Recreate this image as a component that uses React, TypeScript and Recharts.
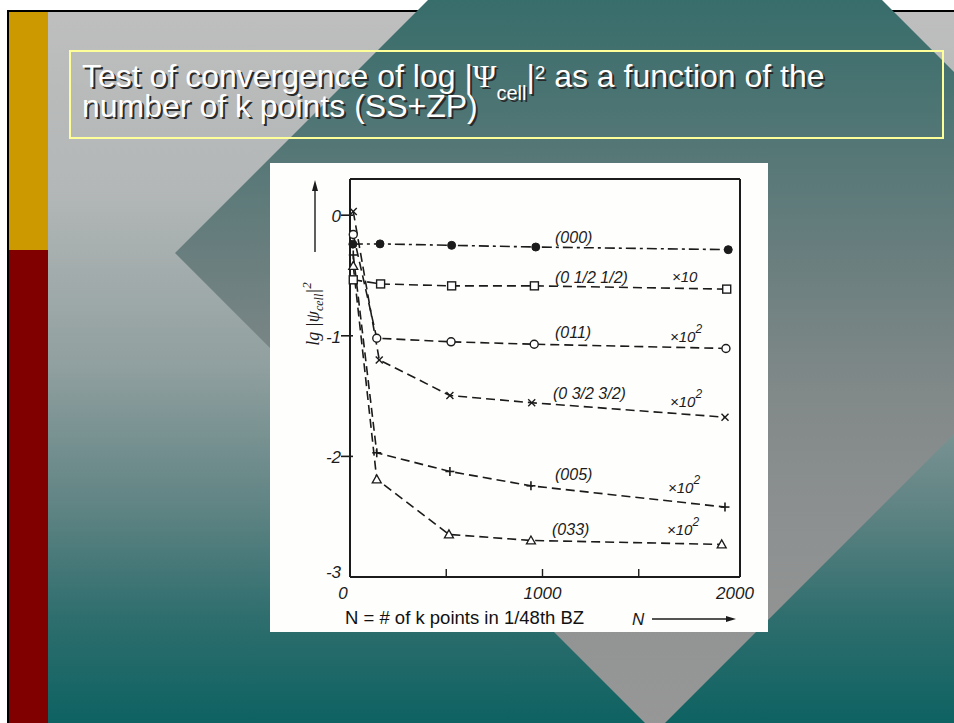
import React from "react";
import { LineChart, Line, XAxis, YAxis } from "recharts";

// ---------- data ----------
const seriesNames = ["(000)", "(0 1/2 1/2)", "(011)", "(0 3/2 3/2)", "(005)", "(033)"];
const scaleNotes = ["", "×10", "×10²", "×10²", "×10²", "×10²"];

const kPoints000 = [15, 156, 528, 965, 1965];
const lg000 = [-0.24, -0.238, -0.25, -0.264, -0.286];

const kPointsHalf = [17, 159, 528, 958, 1957];
const lgHalf = [-0.536, -0.57, -0.586, -0.586, -0.613];

const kPoints011 = [17, 139, 525, 957, 1953];
const lg011 = [-0.16, -1.02, -1.05, -1.07, -1.105];

const kPoints0_3232 = [17, 152, 519, 944, 1948];
const lg0_3232 = [0.03, -1.2, -1.495, -1.555, -1.675];

const kPoints005 = [17, 139, 519, 940, 1948];
const lg005 = [-0.33, -1.97, -2.125, -2.244, -2.42];

const kPoints033 = [17, 139, 514, 940, 1931];
const lg033 = [-0.42, -2.19, -2.647, -2.697, -2.73];

const xTicks = [0, 500, 1000, 1500, 2000];
const xTickLabels: Record<number, string> = { 0: "0", 1000: "1000", 2000: "2000" };
const yTicks = [0, -1, -2, -3];

const zip = (xs: number[], ys: number[]) => xs.map((x, i) => ({ x, y: ys[i] }));

const markerKinds = ["disc", "square", "circle", "cross", "plus", "triangle"];
const seriesData = [
  zip(kPoints000, lg000),
  zip(kPointsHalf, lgHalf),
  zip(kPoints011, lg011),
  zip(kPoints0_3232, lg0_3232),
  zip(kPoints005, lg005),
  zip(kPoints033, lg033),
];

// ---------- styling ----------
const INK = "#1b1b1b";
const scanFont = "'Liberation Sans', Arial, sans-serif";

const makeDot = (kind: string) => (props: any) => {
  const { cx, cy, index } = props;
  const k = `${kind}-${index}`;
  if (cx == null || cy == null) return <g key={k} />;
  switch (kind) {
    case "disc":
      return <circle key={k} cx={cx} cy={cy} r={4} fill={INK} stroke={INK} />;
    case "square":
      return <rect key={k} x={cx - 4} y={cy - 4} width={8} height={8} fill="#fff" stroke={INK} strokeWidth={1.4} />;
    case "circle":
      return <circle key={k} cx={cx} cy={cy} r={4} fill="#fff" stroke={INK} strokeWidth={1.4} />;
    case "cross":
      return (
        <g key={k} stroke={INK} strokeWidth={1.4}>
          <line x1={cx - 3.5} y1={cy - 3.5} x2={cx + 3.5} y2={cy + 3.5} />
          <line x1={cx - 3.5} y1={cy + 3.5} x2={cx + 3.5} y2={cy - 3.5} />
        </g>
      );
    case "plus":
      return (
        <g key={k} stroke={INK} strokeWidth={1.6}>
          <line x1={cx - 4.5} y1={cy} x2={cx + 4.5} y2={cy} />
          <line x1={cx} y1={cy - 4.5} x2={cx} y2={cy + 4.5} />
        </g>
      );
    default:
      return (
        <polygon key={k} points={`${cx},${cy - 4.5} ${cx - 4.5},${cy + 3.5} ${cx + 4.5},${cy + 3.5}`} fill="#fff" stroke={INK} strokeWidth={1.3} />
      );
  }
};

const LeftTick = (props: any) => {
  const { x, y, payload } = props;
  const v = payload.value;
  return (
    <g>
      {v > -3 && <line x1={x - 9} y1={y} x2={x + 3} y2={y} stroke={INK} strokeWidth={1.6} />}
      <text x={x - 9} y={v === -3 ? y + 1 : y + 7} textAnchor="end" fontFamily={scanFont} fontStyle="italic" fontSize={17} fill={INK}>
        {String(v)}
      </text>
    </g>
  );
};

const RightTick = (props: any) => {
  const { x, y, payload } = props;
  if (payload.value <= -3 || payload.value >= 0.3) return <g />;
  return <line x1={x - 8} y1={y + 4} x2={x + 1} y2={y + 4} stroke={INK} strokeWidth={1.6} />;
};

const BottomTick = (props: any) => {
  const { x, y, payload } = props;
  const v = payload.value;
  const lab = xTickLabels[v];
  return (
    <g>
      {v > 0 && v < 2000 && <line x1={x} y1={y} x2={x} y2={y - 8} stroke={INK} strokeWidth={1.4} />}
      {lab && (
        <text x={v === 0 ? x - 7 : x} y={y + 22} textAnchor="middle" fontFamily={scanFont} fontStyle="italic" fontSize={17} fill={INK}>
          {lab}
        </text>
      )}
    </g>
  );
};

const TopTick = (props: any) => {
  const { x, y, payload } = props;
  const v = payload.value;
  if (v <= 0 || v >= 2000) return <g />;
  return <line x1={x} y1={y} x2={x} y2={y + 9} stroke={INK} strokeWidth={1.4} />;
};

// annotation placement (pixels on the page)
const labelPos = [
  [555, 243],
  [555, 283],
  [555, 338],
  [553, 399],
  [555, 480],
  [552, 535],
];
const notePos = [
  [0, 0],
  [672, 282],
  [670, 342],
  [670, 407],
  [668, 493],
  [667, 535],
];

function Title() {
  const body = (fill: string, dx: number, dy: number) => (
    <text x={82 + dx} y={87 + dy} fontFamily="'Liberation Sans', Arial, sans-serif" fontSize={32} fill={fill}>
      Test of convergence of log |<tspan fontFamily="'Liberation Serif', 'Times New Roman', serif">Ψ</tspan>
      <tspan fontSize={20} dy={13}>cell</tspan>
      <tspan dy={-13}>|</tspan>
      <tspan fontSize={19} dy={-8}>2</tspan>
      <tspan dy={8}> as a function of the</tspan>
    </text>
  );
  const body2 = (fill: string, dx: number, dy: number) => (
    <text x={82 + dx} y={117 + dy} fontFamily="'Liberation Sans', Arial, sans-serif" fontSize={32} fill={fill}>
      number of k points (SS+ZP)
    </text>
  );
  return (
    <g>
      {body("#2a2a2a", 2, 2)}
      {body2("#2a2a2a", 2, 2)}
      {body("#ffffff", 0, 0)}
      {body2("#ffffff", 0, 0)}
    </g>
  );
}

export default function App() {
  return (
    <div style={{ position: "absolute", left: 0, top: 0, width: 954, height: 723, overflow: "hidden", background: "#fff" }}>
      <svg width={954} height={723} style={{ position: "absolute", left: 0, top: 0 }}>
        <defs>
          <linearGradient id="bg" x1="0" y1="12" x2="0" y2="723" gradientUnits="userSpaceOnUse">
            <stop offset="0" stopColor="#bebebe" />
            <stop offset="0.25" stopColor="#b3b7b7" />
            <stop offset="0.5" stopColor="#909f9f" />
            <stop offset="0.7" stopColor="#5f8383" />
            <stop offset="0.85" stopColor="#2f6e6e" />
            <stop offset="1" stopColor="#0e6262" />
          </linearGradient>
          <linearGradient id="dia" x1="0" y1="-227" x2="0" y2="733" gradientUnits="userSpaceOnUse">
            <stop offset="0" stopColor="#0f5f5d" />
            <stop offset="0.25" stopColor="#3a6e6c" />
            <stop offset="0.5" stopColor="#697e7e" />
            <stop offset="0.65" stopColor="#828989" />
            <stop offset="0.8" stopColor="#8e9191" />
            <stop offset="1" stopColor="#979797" />
          </linearGradient>
        </defs>
        <rect x={7} y={10} width={947} height={713} fill="#000" />
        <rect x={9} y={12} width={945} height={711} fill="url(#bg)" />
        <polygon points="655,-227 1135,253 655,733 175,253" fill="url(#dia)" />
        <rect x={9} y={12} width={39} height={238} fill="#cc9900" />
        <rect x={9} y={250} width={39} height={473} fill="#800000" />
        <rect x={70} y={51} width={873} height={87} fill="none" stroke="#ffff99" strokeWidth={2} />
        <Title />
        <rect x={270} y={163} width={498} height={469} fill="#fefefc" />
      </svg>

      <div style={{ position: "absolute", left: 0, top: 0 }}>
        <LineChart width={954} height={723} margin={{ top: 174, right: 209, bottom: 116, left: 320 }}>
          <XAxis
            xAxisId="bottom"
            orientation="bottom"
            type="number"
            dataKey="x"
            domain={[0, 2026]}
            ticks={xTicks}
            height={30}
            tickSize={0}
            tickMargin={0}
            tickLine={false}
            axisLine={{ stroke: INK, strokeWidth: 2 }}
            tick={<BottomTick />}
            interval={0}
          />
          <XAxis
            xAxisId="top"
            orientation="top"
            type="number"
            dataKey="x"
            domain={[0, 2026]}
            ticks={xTicks}
            height={5}
            tickSize={0}
            tickMargin={0}
            tickLine={false}
            axisLine={{ stroke: INK, strokeWidth: 2 }}
            tick={<TopTick />}
            interval={0}
          />
          <YAxis
            yAxisId="left"
            orientation="left"
            type="number"
            domain={[-3, 0.3]}
            ticks={yTicks}
            width={30}
            tickSize={0}
            tickMargin={0}
            tickLine={false}
            axisLine={{ stroke: INK, strokeWidth: 2 }}
            tick={<LeftTick />}
            interval={0}
          />
          <YAxis
            yAxisId="right"
            orientation="right"
            type="number"
            domain={[-3, 0.3]}
            ticks={yTicks}
            width={5}
            tickSize={0}
            tickMargin={0}
            tickLine={false}
            axisLine={{ stroke: INK, strokeWidth: 2 }}
            tick={<RightTick />}
            interval={0}
          />
          {seriesData.map((d, i) => (
            <Line
              key={seriesNames[i]}
              name={seriesNames[i]}
              data={d}
              dataKey="y"
              xAxisId="bottom"
              yAxisId="left"
              type="linear"
              stroke={INK}
              strokeWidth={1.6}
              strokeDasharray={i === 0 ? "10 4 3 4" : "9 5"}
              dot={makeDot(markerKinds[i])}
              activeDot={false}
              isAnimationActive={false}
            />
          ))}
        </LineChart>
      </div>

      <svg width={954} height={723} style={{ position: "absolute", left: 0, top: 0, pointerEvents: "none" }}>
        {seriesNames.map((n, i) => (
          <text key={n} x={labelPos[i][0]} y={labelPos[i][1]} fontFamily={scanFont} fontStyle="italic" fontSize={16} fill={INK}>
            {n}
          </text>
        ))}
        {scaleNotes.map((n, i) =>
          n ? (
            <text key={"n" + i} x={notePos[i][0]} y={notePos[i][1]} fontFamily={scanFont} fontStyle="italic" fontSize={15} fill={INK}>
              {n.replace("²", "")}
              {n.includes("²") && (
                <tspan fontSize={12} dy={-9}>2</tspan>
              )}
            </text>
          ) : null
        )}
        {/* y-axis title with arrow */}
        <line x1={315} y1={252} x2={315} y2={188} stroke={INK} strokeWidth={1.4} />
        <polygon points="315,180 312,191 318,191" fill={INK} />
        <text transform="rotate(-90 314 314)" x={314} y={319} textAnchor="middle" fontFamily="'Liberation Serif', serif" fontStyle="italic" fontSize={18} fill={INK}>
          lg |ψ<tspan fontSize={12} dy={4}>cell</tspan><tspan dy={-4}>|</tspan><tspan fontSize={13} dy={-8}>2</tspan>
        </text>
        {/* x-axis title */}
        <text x={345} y={624} fontFamily="'Liberation Sans', Arial, sans-serif" fontSize={18.5} fill="#111">
          N = # of k points in 1/48th BZ
        </text>
        <text x={632} y={625} fontFamily={scanFont} fontStyle="italic" fontSize={17} fill={INK}>N</text>
        <line x1={652} y1={619} x2={728} y2={619} stroke={INK} strokeWidth={1.4} />
        <polygon points="736,619 726,616 726,622" fill={INK} />
      </svg>
    </div>
  );
}
